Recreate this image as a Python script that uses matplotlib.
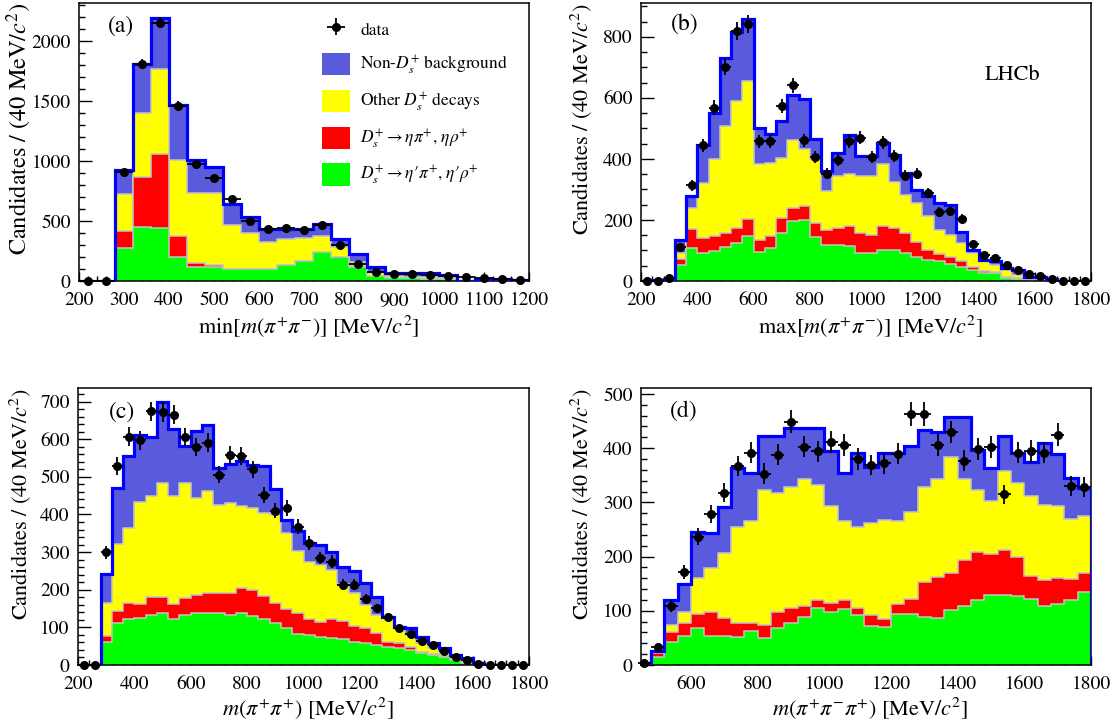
"""D_s+ -> pi+ pi- pi+ X : invariant-mass projections, stacked templates vs data."""
import numpy as np
import matplotlib as mpl
mpl.use("Agg")
import matplotlib.pyplot as plt
from matplotlib.ticker import MultipleLocator
from matplotlib.patches import Patch

mpl.rcParams.update({
    "font.family": "STIXGeneral",
    "mathtext.fontset": "stix",
    "font.size": 14,
    "axes.linewidth": 1.1,
    "xtick.direction": "in", "ytick.direction": "in",
    "xtick.labelsize": 14, "ytick.labelsize": 14,
    "xtick.major.width": 1.0, "ytick.major.width": 1.0,
    "xtick.minor.width": 1.0, "ytick.minor.width": 1.0,
    "xtick.major.pad": 8, "ytick.major.pad": 6,
})

BIN = 40  # MeV

# ── (a) min[m(pi+ pi-)] : bins from 200 MeV ──
a_lo = 200
a_data   = [0, 0, 906, 1811, 2150, 1461, 978, 856, 686, 503, 433, 440, 429, 464, 300,
            142, 78, 58, 58, 50, 42, 31, 22, 17, 8]
a_total  = [0, 0, 922, 1806, 2195, 1464, 1011, 953, 642, 531, 430, 430, 436, 475, 347,
            225, 114, 69, 64, 64, 50, 3, 15, 18, 8]
a_yellow = [0, 0, 728, 1400, 1762, 1006, 733, 731, 467, 398, 328, 346, 361, 375, 286,
            160, 64, 42, 36, 36, 36, 2, 10, 12, 6]
a_red    = [0, 0, 414, 867, 1056, 372, 150, 135, 97, 97, 97, 133, 167, 244, 203,
            122, 45, 22, 22, 20, 14, 1, 5, 5, 3]
a_green  = [0, 0, 275, 450, 445, 203, 119, 119, 97, 97, 97, 133, 167, 244, 203,
            118, 42, 22, 22, 20, 14, 1, 5, 5, 3]

# ── (b) max[m(pi+ pi-)] : bins from 200 MeV ──
b_lo = 200
b_data   = [0, 0, 10, 110, 313, 445, 568, 700, 820, 842, 458, 458, 573, 641, 461, 407,
            352, 398, 458, 469, 407, 455, 409, 345, 352, 288, 226, 228, 204, 122, 84,
            77, 52, 37, 22, 17, 5, 0, 0, 0]
b_total  = [0, 2, 8, 135, 277, 447, 552, 732, 817, 859, 502, 482, 524, 609, 598, 464,
            360, 420, 477, 411, 411, 453, 414, 354, 299, 277, 256, 250, 162, 102, 69,
            64, 42, 37, 14, 14, 5, 1, 0, 0]
b_yellow = [0, 1, 6, 93, 239, 321, 400, 508, 590, 656, 382, 387, 404, 461, 431, 400,
            294, 343, 349, 343, 343, 382, 323, 283, 256, 212, 168, 150, 124, 91, 64,
            54, 37, 20, 10, 8, 3, 0, 0, 0]
b_red    = [0, 1, 4, 71, 170, 142, 146, 157, 175, 204, 135, 148, 206, 239, 247, 190,
            168, 173, 179, 157, 151, 181, 173, 157, 129, 102, 89, 78, 64, 47, 32,
            29, 14, 10, 5, 4, 2, 0, 0, 0]
b_green  = [0, 0, 3, 53, 108, 91, 99, 110, 126, 148, 96, 108, 157, 195, 201, 144,
            118, 118, 115, 93, 93, 102, 100, 91, 80, 69, 64, 55, 47, 36, 27,
            25, 11, 8, 4, 3, 1, 0, 0, 0]

# ── (c) m(pi+ pi+) : bins from 200 MeV ──
c_lo = 200
c_data   = [0, 0, 299, 529, 607, 597, 674, 672, 665, 606, 579, 591, 505, 559, 556, 520,
            452, 410, 417, 368, 324, 284, 275, 213, 213, 175, 151, 128, 99, 82, 65,
            53, 37, 22, 13, 2, 0, 0, 0, 0]
c_total  = [0, 0, 242, 470, 556, 612, 605, 698, 627, 582, 623, 638, 523, 535, 541, 532,
            529, 467, 386, 355, 324, 319, 301, 261, 250, 217, 180, 128, 102, 98, 75,
            58, 44, 27, 18, 4, 1, 0, 0, 0]
c_yellow = [0, 0, 166, 322, 363, 432, 448, 483, 449, 483, 443, 463, 426, 430, 423, 417,
            405, 399, 350, 304, 275, 266, 253, 215, 190, 160, 133, 124, 98, 80, 58,
            44, 31, 18, 9, 2, 0, 0, 0, 0]
c_red    = [0, 0, 77, 144, 164, 162, 182, 182, 162, 177, 186, 191, 191, 192, 204, 198,
            184, 166, 148, 137, 121, 115, 121, 118, 104, 98, 84, 62, 58, 49, 35,
            29, 24, 15, 7, 1, 0, 0, 0, 0]
c_green  = [0, 0, 62, 112, 121, 124, 133, 139, 121, 133, 137, 139, 137, 133, 137, 130,
            121, 111, 98, 82, 80, 75, 71, 70, 62, 58, 53, 49, 44, 40, 31,
            27, 22, 13, 6, 1, 0, 0, 0, 0]

# ── (d) m(pi+ pi- pi+) : bins from 440 MeV ──
d_lo = 440
d_data   = [3, 34, 109, 171, 237, 278, 318, 367, 392, 353, 388, 449, 403, 394, 411, 406,
            380, 369, 372, 390, 463, 463, 406, 430, 377, 398, 402, 315, 392, 395, 392,
            425, 330, 328]
d_total  = [3, 25, 119, 150, 246, 244, 292, 364, 355, 423, 423, 437, 438, 438, 395, 354,
            391, 365, 392, 392, 404, 433, 430, 457, 457, 396, 363, 423, 392, 375, 410,
            390, 345, 326]
d_yellow = [2, 24, 74, 98, 160, 179, 206, 255, 265, 323, 317, 328, 343, 332, 294, 265,
            255, 262, 268, 265, 283, 328, 343, 383, 343, 323, 303, 357, 335, 311, 295,
            294, 269, 275]
d_red    = [1, 22, 60, 78, 95, 98, 86, 77, 77, 74, 98, 105, 109, 119, 115, 120,
            105, 92, 84, 113, 121, 154, 162, 169, 194, 209, 205, 213, 199, 164, 157,
            160, 158, 169]
d_green  = [1, 15, 43, 54, 68, 54, 54, 51, 62, 49, 68, 78, 89, 106, 97, 103,
            92, 72, 70, 95, 95, 88, 86, 102, 108, 120, 129, 129, 127, 121, 109,
            113, 119, 135]

C_NON, C_OTHER, C_ETA, C_ETAP = "#5A5ADC", "#FFFF00", "#FF0000", "#00FF00"
C_EDGE = "#C4C4C4"

YLAB = r"Candidates / (40 MeV/$c^{2}$)"


def draw(ax, lo, data, total, yellow, red, green):
    n = len(data)
    edges = lo + BIN * np.arange(n + 1)
    centers = edges[:-1] + BIN / 2
    # stacked templates, drawn as cumulative levels
    for lvl, col in [(total, C_NON), (yellow, C_OTHER), (red, C_ETA), (green, C_ETAP)]:
        ax.stairs(lvl, edges, fill=True, facecolor=col, edgecolor=C_EDGE, linewidth=1.1, zorder=2)
    ax.stairs(total, edges, color="#0000FF", linewidth=2.3, zorder=3)
    d = np.asarray(data, float)
    eb = ax.errorbar(centers, d, xerr=BIN / 2, yerr=np.sqrt(d), fmt="o", color="black",
                     ms=5.5, elinewidth=1.3, capsize=0, clip_on=False, zorder=5)
    for art in eb.lines[2]:
        art.set_clip_on(False)
    return eb


def style(ax, xlim, ylim, xmaj, xmin, ymaj, ymin, xlabel, ylab_x, xlab_y, ylab_size):
    ax.set_xlim(*xlim)
    ax.set_ylim(*ylim)
    ax.xaxis.set_major_locator(MultipleLocator(xmaj))
    ax.xaxis.set_minor_locator(MultipleLocator(xmin))
    ax.yaxis.set_major_locator(MultipleLocator(ymaj))
    ax.yaxis.set_minor_locator(MultipleLocator(ymin))
    ax.tick_params(axis="x", which="major", length=6.5)
    ax.tick_params(axis="x", which="minor", length=3.3)
    ax.tick_params(axis="y", which="major", length=9.5)
    ax.tick_params(axis="y", which="minor", length=4.5)
    ax.set_xlabel(xlabel, fontsize=16)
    ax.xaxis.set_label_coords(0.51, xlab_y)
    ax.set_ylabel(YLAB, fontsize=ylab_size, loc="top")
    ax.yaxis.set_label_coords(ylab_x, 1.0)


fig = plt.figure(figsize=(11.17, 7.23), dpi=100)
W, H = 1117.0, 723.0
ax_a = fig.add_axes([79 / W, 1 - 281 / H, 450 / W, 278 / H])
ax_b = fig.add_axes([641 / W, 1 - 281 / H, 450 / W, 278 / H])
ax_c = fig.add_axes([78 / W, 1 - 665 / H, 451 / W, 277 / H])
ax_d = fig.add_axes([641 / W, 1 - 665 / H, 450 / W, 277 / H])

eb_a = draw(ax_a, a_lo, a_data, a_total, a_yellow, a_red, a_green)
draw(ax_b, b_lo, b_data, b_total, b_yellow, b_red, b_green)
draw(ax_c, c_lo, c_data, c_total, c_yellow, c_red, c_green)
draw(ax_d, d_lo, d_data, d_total, d_yellow, d_red, d_green)

style(ax_a, (200, 1200), (0, 2316), 100, 20, 500, 100,
      r"min[$m(\pi^{+}\pi^{-})$] [MeV/$c^{2}$]", -0.10, -0.115, 17.5)
style(ax_b, (200, 1800), (0, 911), 200, 40, 200, 50,
      r"max[$m(\pi^{+}\pi^{-})$] [MeV/$c^{2}$]", -0.105, -0.115, 16)
style(ax_c, (200, 1800), (0, 736), 200, 40, 100, 20,
      r"$m(\pi^{+}\pi^{+})$ [MeV/$c^{2}$]", -0.10, -0.11, 16)
style(ax_d, (450, 1800), (0, 511), 200, 40, 100, 20,
      r"$m(\pi^{+}\pi^{-}\pi^{+})$ [MeV/$c^{2}$]", -0.105, -0.11, 16)

for ax, tag, x, y in [(ax_a, "(a)", 0.065, 0.917), (ax_b, "(b)", 0.066, 0.924),
                      (ax_c, "(c)", 0.069, 0.914), (ax_d, "(d)", 0.064, 0.918)]:
    ax.text(x, y, tag, transform=ax.transAxes, fontsize=17, va="center", ha="left")

ax_b.text(0.764, 0.741, "LHCb", transform=ax_b.transAxes, fontsize=16, va="center", ha="left")

handles = [
    eb_a,
    Patch(facecolor=C_NON, edgecolor="none"),
    Patch(facecolor=C_OTHER, edgecolor="none"),
    Patch(facecolor=C_ETA, edgecolor="none"),
    Patch(facecolor=C_ETAP, edgecolor="none"),
]
labels = [
    "data",
    r"Non-$D_s^{+}$ background",
    r"Other $D_s^{+}$ decays",
    r"$D_s^{+}\rightarrow\eta\pi^{+}$, $\eta\rho^{+}$",
    r"$D_s^{+}\rightarrow\eta\prime\pi^{+}$, $\eta\prime\rho^{+}$",
]
ax_a.legend(handles, labels, loc="upper left", bbox_to_anchor=(0.54, 0.945),
            frameon=False, fontsize=12.5, handlelength=1.6, handleheight=1.6,
            labelspacing=0.72, handletextpad=0.6, borderpad=0, borderaxespad=0)

fig.savefig("out.png", dpi=100, facecolor="white")
